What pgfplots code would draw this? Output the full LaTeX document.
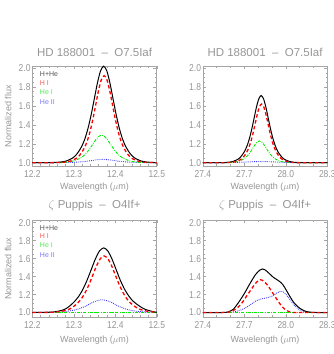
\documentclass[border=0pt]{standalone}
\usepackage{fontspec}
\setmainfont{Liberation Sans}
\newfontfamily\tickfont{Liberation Sans}[FakeStretch=0.85]
\usepackage{pgfplots}
\pgfplotsset{compat=1.18}
\definecolor{axgray}{RGB}{165,165,165}
\definecolor{txtgray}{RGB}{150,150,150}
\definecolor{lnred}{RGB}{255,0,0}
\definecolor{lngreen}{RGB}{0,235,0}
\definecolor{lnblue}{RGB}{50,50,255}
\definecolor{lgblack}{RGB}{85,85,85}
\definecolor{lgred}{RGB}{255,90,90}
\definecolor{lggreen}{RGB}{80,235,80}
\definecolor{lgblue}{RGB}{120,120,255}

\pgfplotsset{
  panel/.style={
    scale only axis, width=124.5pt,
    axis line style={axgray, line width=0.6pt},
    every tick/.style={axgray, line width=0.5pt},
    major tick length=3.4pt, minor tick length=1.7pt,
    tick align=inside,
    ytick={1.0,1.2,1.4,1.6,1.8,2.0},
    minor y tick num=3,
    tick label style={font=\tickfont\fontsize{10}{12}\selectfont, text=txtgray,
      /pgf/number format/fixed, /pgf/number format/fixed zerofill,
      /pgf/number format/precision=1, /pgf/number format/assume math mode=true},
    xticklabel style={anchor=center, yshift=-8.5pt},
    yticklabel style={anchor=east, inner xsep=1.6pt},
    title style={font=\fontsize{11.5}{13}\selectfont, text=txtgray,
      at={(axis description cs:0.5,1)}, anchor=center, yshift=8pt},
    xlabel={Wavelength ($\mu$m)},
    xlabel style={font=\fontsize{9}{11}\selectfont, text=txtgray,
      at={(axis description cs:0.5,0)}, anchor=center},
    ylabel style={font=\fontsize{9}{11}\selectfont, text=txtgray,
      at={(axis description cs:-0.193,0.5)}, anchor=center},
    clip=true,
  },
  shortx/.style={xmin=12.2, xmax=12.5, xtick={12.2,12.3,12.4,12.5}, minor x tick num=4},
  longx/.style={xmin=27.4, xmax=28.3, xtick={27.4,27.7,28.0,28.3}, minor x tick num=2},
  toprow/.style={height=100pt, ymin=0.965, ymax=2.022, xlabel style={yshift=-21.5pt}},
  botrow/.style={height=97pt, ymin=0.95, ymax=2.03, xlabel style={yshift=-23pt}},
  hhe/.style={black, line width=1pt, smooth, tension=0.4},
  hI/.style={lnred, line width=1.3pt, dash pattern=on 3.5pt off 2.5pt, smooth, tension=0.4},
  heI/.style={lngreen, line width=0.9pt, dash pattern=on 3pt off 1.3pt on 0.8pt off 1.3pt, smooth, tension=0.4},
  heII/.style={lnblue, line width=0.9pt, dash pattern=on 0.8pt off 1.1pt, smooth, tension=0.4},
}

\newcommand{\lgnd}[1]{%
  \node[anchor=west, inner sep=0, text=lgblack, font=\fontsize{7}{8}\selectfont] at (rel axis cs:0.06,#1) {H+He};
}

\begin{document}
\begin{tikzpicture}[x=1pt,y=1pt]

% HD 188001, short wavelength
\begin{axis}[panel, shortx, toprow, at={(32.3pt,188pt)}, anchor=south west,
  title={HD 188001 \ -- \ O7.5Iaf}, ylabel={Normalized flux}]
  \addplot[heII] coordinates {(12.2,1.000)(12.265,1.001)(12.30,1.004)(12.3175,1.009)(12.335,1.0175)(12.3525,1.029)(12.37,1.035)(12.3875,1.029)(12.405,1.0175)(12.4225,1.009)(12.44,1.004)(12.475,1.001)(12.5,1.000)};
  \addplot[heI] coordinates {(12.2,1.000)(12.251,1.001)(12.2655,1.002)(12.280,1.005)(12.2945,1.014)(12.3018,1.022)(12.309,1.034)(12.3163,1.050)(12.3235,1.073)(12.3308,1.104)(12.338,1.145)(12.3453,1.193)(12.3525,1.240)(12.3598,1.276)(12.367,1.290)(12.3743,1.276)(12.3815,1.240)(12.3888,1.193)(12.396,1.145)(12.4033,1.104)(12.4105,1.073)(12.4178,1.050)(12.425,1.034)(12.4323,1.022)(12.4395,1.014)(12.454,1.005)(12.4685,1.002)(12.483,1.001)(12.5,1.000)};
  \addplot[hhe] coordinates {(12.2,1.000)(12.222,1.000)(12.252,1.002)(12.267,1.006)(12.282,1.018)(12.297,1.049)(12.3045,1.077)(12.312,1.120)(12.3195,1.176)(12.327,1.256)(12.3345,1.367)(12.342,1.510)(12.3495,1.677)(12.357,1.844)(12.3645,1.972)(12.372,2.020)(12.3795,1.972)(12.387,1.844)(12.3945,1.677)(12.402,1.510)(12.4095,1.367)(12.417,1.256)(12.4245,1.176)(12.432,1.120)(12.4395,1.077)(12.447,1.049)(12.462,1.018)(12.477,1.006)(12.492,1.002)(12.5,1.000)};
  \addplot[hI] coordinates {(12.2,1.000)(12.238,1.000)(12.265,1.002)(12.2785,1.006)(12.292,1.017)(12.3055,1.044)(12.3123,1.069)(12.319,1.108)(12.3258,1.159)(12.3325,1.231)(12.3393,1.331)(12.346,1.460)(12.3528,1.611)(12.3595,1.762)(12.3663,1.877)(12.373,1.920)(12.3798,1.877)(12.3865,1.762)(12.3933,1.611)(12.400,1.460)(12.4068,1.331)(12.4135,1.231)(12.4203,1.159)(12.427,1.108)(12.4338,1.069)(12.4405,1.044)(12.454,1.017)(12.4675,1.006)(12.481,1.002)(12.5,1.000)};
  \lgnd{0.92}
  \node[anchor=west, inner sep=0, text=lgred, font=\fontsize{7}{8}\selectfont] at (rel axis cs:0.06,0.827) {H I};
  \node[anchor=west, inner sep=0, text=lggreen, font=\fontsize{7}{8}\selectfont] at (rel axis cs:0.06,0.737) {He I};
  \node[anchor=west, inner sep=0, text=lgblue, font=\fontsize{7}{8}\selectfont] at (rel axis cs:0.06,0.643) {He II};
\end{axis}

% HD 188001, long wavelength
\begin{axis}[panel, longx, toprow, at={(202.8pt,188pt)}, anchor=south west,
  title={HD 188001 \ -- \ O7.5Iaf}]
  \addplot[heII] coordinates {(27.4,1.000)(27.62,1.002)(27.70,1.006)(27.76,1.010)(27.82,1.012)(27.88,1.010)(27.94,1.006)(28.02,1.002)(28.3,1.000)};
  \addplot[heI] coordinates {(27.4,1.000)(27.55,1.000)(27.5825,1.001)(27.615,1.004)(27.6475,1.011)(27.6638,1.017)(27.68,1.027)(27.6963,1.040)(27.7125,1.058)(27.7288,1.083)(27.745,1.115)(27.7613,1.153)(27.7775,1.190)(27.7938,1.219)(27.81,1.230)(27.8263,1.219)(27.8425,1.190)(27.8588,1.153)(27.875,1.115)(27.8913,1.083)(27.9075,1.058)(27.9238,1.040)(27.94,1.027)(27.9563,1.017)(27.9725,1.011)(28.005,1.004)(28.0375,1.001)(28.07,1.000)(28.3,1.000)};
  \addplot[hhe] coordinates {(27.4,1.000)(27.482,1.000)(27.550,1.001)(27.584,1.004)(27.618,1.013)(27.652,1.034)(27.669,1.053)(27.686,1.084)(27.703,1.122)(27.720,1.178)(27.737,1.255)(27.754,1.355)(27.771,1.471)(27.788,1.588)(27.805,1.676)(27.822,1.710)(27.839,1.676)(27.856,1.588)(27.873,1.471)(27.890,1.355)(27.907,1.255)(27.924,1.178)(27.941,1.122)(27.958,1.084)(27.975,1.053)(27.992,1.034)(28.026,1.013)(28.060,1.004)(28.094,1.001)(28.162,1.000)(28.3,1.000)};
  \addplot[hI] coordinates {(27.4,1.000)(27.515,1.000)(27.577,1.001)(27.608,1.004)(27.639,1.011)(27.670,1.030)(27.6855,1.047)(27.701,1.073)(27.7165,1.107)(27.732,1.156)(27.7475,1.223)(27.763,1.310)(27.7785,1.412)(27.794,1.513)(27.8095,1.591)(27.825,1.620)(27.8405,1.591)(27.856,1.513)(27.8715,1.412)(27.887,1.310)(27.9025,1.223)(27.918,1.156)(27.9335,1.107)(27.949,1.073)(27.9645,1.047)(27.980,1.030)(28.011,1.011)(28.042,1.004)(28.073,1.001)(28.135,1.000)(28.3,1.000)};
\end{axis}

% zeta Puppis, short wavelength
\begin{axis}[panel, shortx, botrow, at={(32.3pt,37pt)}, anchor=south west,
  title={$\zeta$ Puppis \ -- \ O4If+}, ylabel={Normalized flux}]
  \addplot[heII] coordinates {(12.2,1.000)(12.248,1.003)(12.268,1.007)(12.288,1.016)(12.308,1.035)(12.328,1.070)(12.348,1.118)(12.368,1.143)(12.388,1.118)(12.408,1.070)(12.428,1.035)(12.448,1.016)(12.468,1.007)(12.488,1.003)(12.5,1.002)};
  \addplot[heI] coordinates {(12.2,1.000)(12.5,1.000)};
  \addplot[hhe] coordinates {(12.2,1.000)(12.212,1.001)(12.232,1.002)(12.252,1.006)(12.272,1.025)(12.282,1.045)(12.292,1.080)(12.302,1.124)(12.312,1.181)(12.322,1.259)(12.332,1.360)(12.342,1.478)(12.352,1.596)(12.362,1.686)(12.372,1.720)(12.382,1.686)(12.392,1.596)(12.402,1.478)(12.412,1.360)(12.422,1.262)(12.432,1.187)(12.442,1.130)(12.452,1.092)(12.462,1.060)(12.472,1.035)(12.492,1.008)(12.5,1.004)};
  \addplot[hI] coordinates {(12.2,1.000)(12.229,1.001)(12.247,1.003)(12.265,1.009)(12.283,1.026)(12.292,1.044)(12.301,1.072)(12.310,1.109)(12.319,1.158)(12.328,1.227)(12.337,1.315)(12.346,1.418)(12.355,1.522)(12.364,1.600)(12.373,1.630)(12.382,1.600)(12.391,1.522)(12.400,1.418)(12.409,1.315)(12.418,1.227)(12.427,1.158)(12.436,1.109)(12.445,1.074)(12.454,1.047)(12.463,1.030)(12.481,1.011)(12.5,1.003)};
  \lgnd{0.918}
  \node[anchor=west, inner sep=0, text=lgred, font=\fontsize{7}{8}\selectfont] at (rel axis cs:0.06,0.832) {H I};
  \node[anchor=west, inner sep=0, text=lggreen, font=\fontsize{7}{8}\selectfont] at (rel axis cs:0.06,0.739) {He I};
  \node[anchor=west, inner sep=0, text=lgblue, font=\fontsize{7}{8}\selectfont] at (rel axis cs:0.06,0.642) {He II};
\end{axis}

% zeta Puppis, long wavelength
\begin{axis}[panel, longx, botrow, at={(202.8pt,37pt)}, anchor=south west,
  title={$\zeta$ Puppis \ -- \ O4If+}]
  \addplot[heII] coordinates {(27.4,1.000)(27.58,1.000)(27.62,1.005)(27.66,1.020)(27.70,1.045)(27.74,1.083)(27.78,1.125)(27.82,1.150)(27.86,1.163)(27.90,1.182)(27.93,1.212)(27.96,1.236)(27.98,1.232)(28.00,1.205)(28.03,1.145)(28.06,1.082)(28.09,1.040)(28.12,1.015)(28.16,1.003)(28.20,1.000)(28.3,1.000)};
  \addplot[heI] coordinates {(27.4,1.000)(28.3,1.000)};
  \addplot[hhe] coordinates {(27.4,1.000)(27.54,1.000)(27.58,1.005)(27.62,1.035)(27.66,1.115)(27.70,1.210)(27.74,1.320)(27.78,1.420)(27.81,1.470)(27.83,1.485)(27.85,1.475)(27.88,1.435)(27.91,1.392)(27.94,1.362)(27.96,1.340)(27.98,1.308)(28.00,1.258)(28.03,1.178)(28.06,1.108)(28.10,1.048)(28.14,1.015)(28.18,1.003)(28.22,1.000)(28.3,1.000)};
  \addplot[hI] coordinates {(27.4,1.000)(27.56,1.000)(27.60,1.010)(27.64,1.040)(27.68,1.100)(27.72,1.190)(27.76,1.280)(27.79,1.340)(27.815,1.365)(27.84,1.350)(27.87,1.300)(27.90,1.230)(27.93,1.160)(27.96,1.092)(27.99,1.040)(28.02,1.012)(28.06,1.000)(28.3,1.000)};
\end{axis}

\pgfresetboundingbox
\path (0,0) rectangle (334,354);
\end{tikzpicture}
\end{document}
